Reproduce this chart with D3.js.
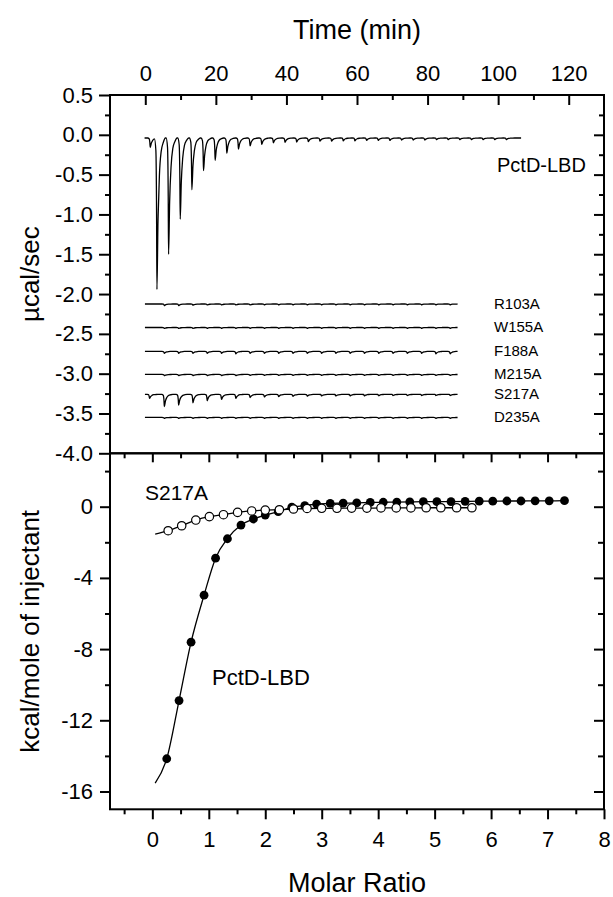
<!DOCTYPE html>
<html><head><meta charset="utf-8">
<script src="https://cdn.jsdelivr.net/npm/d3@7"></script>
<style>
body{margin:0;background:#fff}
svg{display:block}
text{font-family:"Liberation Sans",Arial,Helvetica,sans-serif;fill:#000}
</style></head>
<body>
<svg id="c" width="613" height="897"></svg>
<script>
// ---------- tick labels ----------
const timeTicks = [0, 20, 40, 60, 80, 100, 120];
const topYTicks = [0.5, 0.0, -0.5, -1.0, -1.5, -2.0, -2.5, -3.0, -3.5, -4.0];
const molarTicks = [0, 1, 2, 3, 4, 5, 6, 7, 8];
const botYTicks = [0, -4, -8, -12, -16];

// ---------- raw thermogram: PctD-LBD ----------
const pctdBaseline = -0.04;
const pctdRange = [-0.2, 106.5];
const pctdPeakTimes = [1.4, 3.3, 6.6, 9.9, 13.2, 16.5, 19.8, 23.1, 26.4, 29.7, 33.0, 36.3, 39.6, 42.9, 46.2, 49.5,
  52.8, 56.1, 59.4, 62.7, 66.0, 69.3, 72.6, 75.9, 79.2, 82.5, 85.8, 89.1, 92.4, 95.7, 99.0, 102.3];
const pctdPeakMin = [-0.16, -1.94, -1.50, -1.06, -0.69, -0.45, -0.32, -0.23, -0.18, -0.14, -0.12, -0.10, -0.095,
  -0.09, -0.085, -0.08, -0.08, -0.075, -0.075, -0.07, -0.07, -0.07, -0.065, -0.065, -0.065, -0.06, -0.06,
  -0.06, -0.06, -0.06, -0.06, -0.06];

// ---------- raw thermograms: mutants ----------
const mutantNames = ["R103A", "W155A", "F188A", "M215A", "S217A", "D235A"];
const mutantBaselines = [-2.125, -2.42, -2.72, -3.01, -3.26, -3.55];
const mutantRange = [-0.1, 88.5];
const mutantPeakTimes = [1.2, 5.4, 9.45, 13.5, 17.55, 21.6, 25.65, 29.7, 33.75, 37.8, 41.85, 45.9, 49.95, 54.0,
  58.05, 62.1, 66.15, 70.2, 74.25, 78.3, 82.35, 86.4];
const mutantDips = [
  [0.0, 0.02, 0.02, 0.015, 0.012, 0.012, 0.012, 0.012, 0.01, 0.01, 0.01, 0.01, 0.01, 0.01, 0.01, 0.01, 0.01, 0.01, 0.01, 0.01, 0.01, 0.01],
  [0.0, 0.012, 0.012, 0.012, 0.01, 0.01, 0.01, 0.01, 0.01, 0.01, 0.01, 0.01, 0.01, 0.01, 0.01, 0.01, 0.01, 0.01, 0.01, 0.01, 0.01, 0.01],
  [0.0, 0.025, 0.025, 0.025, 0.025, 0.025, 0.03, 0.025, 0.025, 0.025, 0.025, 0.025, 0.025, 0.025, 0.025, 0.025, 0.025, 0.025, 0.025, 0.025, 0.03, 0.03],
  [0.0, 0.015, 0.015, 0.015, 0.015, 0.015, 0.015, 0.012, 0.012, 0.012, 0.012, 0.012, 0.012, 0.012, 0.012, 0.012, 0.012, 0.012, 0.012, 0.012, 0.012, 0.012],
  [0.05, 0.155, 0.134, 0.105, 0.08, 0.063, 0.05, 0.04, 0.032, 0.028, 0.025, 0.022, 0.02, 0.02, 0.018, 0.018, 0.017, 0.016, 0.016, 0.015, 0.015, 0.015],
  [0.0, 0.01, 0.01, 0.01, 0.01, 0.01, 0.01, 0.01, 0.01, 0.01, 0.01, 0.01, 0.01, 0.01, 0.01, 0.01, 0.01, 0.01, 0.01, 0.01, 0.01, 0.01]
];
// shape of one injection peak (offset in min, fraction of depth)
const peakShapeT = [-0.7, -0.3, -0.1, 0, 0.3, 0.7, 1.2, 1.8, 2.4];
const peakShapeF = [0, 0.08, 0.5, 1, 0.55, 0.25, 0.09, 0.03, 0];

// ---------- integrated heats ----------
const pctdMR = [0.255, 0.473, 0.686, 0.916, 1.12, 1.33, 1.57, 1.79, 2.0, 2.23, 2.47, 2.70, 2.91, 3.15, 3.38, 3.62,
  3.86, 4.09, 4.33, 4.56, 4.80, 5.04, 5.29, 5.54, 5.79, 6.03, 6.28, 6.53, 6.78, 7.03, 7.30];
const pctdHeat = [-14.16, -10.89, -7.61, -4.97, -2.89, -1.80, -1.03, -0.69, -0.47, -0.28, -0.03, 0.06, 0.15, 0.19,
  0.20, 0.21, 0.24, 0.25, 0.26, 0.27, 0.28, 0.28, 0.29, 0.30, 0.31, 0.31, 0.32, 0.32, 0.33, 0.33, 0.34];
const pctdFitStart = [0.05, -15.53];
const s217MR = [0.28, 0.52, 0.77, 1.01, 1.26, 1.51, 1.76, 2.00, 2.25, 2.50, 2.74, 3.00, 3.27, 3.53, 3.80, 4.05,
  4.32, 4.58, 4.85, 5.11, 5.39, 5.66];
const s217Heat = [-1.35, -1.07, -0.75, -0.56, -0.45, -0.32, -0.24, -0.19, -0.17, -0.13, -0.10, -0.09, -0.09, -0.08,
  -0.08, -0.07, -0.07, -0.07, -0.06, -0.06, -0.06, -0.06];
const s217FitStart = [0.05, -1.54];

// ---------- layout ----------
const L = 110, R = 604, T = 95, M = 453.3, B = 809.3;
const svg = d3.select("#c");

const xTime = d3.scaleLinear().domain([-10, 130]).range([L, R]);
const yTop = d3.scaleLinear().domain([-4, 0.5]).range([M, T]);
const xMR = d3.scaleLinear().domain([-0.75, 8]).range([L, R]);
const yBot = d3.scaleLinear().domain([-17, 3]).range([B, M]);

const fmt1 = d => d.toFixed(1);
const fmt0 = d => String(d);
function range(a, b, s) { const out = []; for (let v = a; v <= b + 1e-9; v += s) out.push(+v.toFixed(4)); return out; }

function styleAxis(g, fs) {
  g.select(".domain").remove();
  g.selectAll(".tick line").attr("stroke", "#000").attr("stroke-width", 2);
  g.selectAll(".tick text").attr("font-size", fs).style("font-family", '"Liberation Sans",Arial,sans-serif');
}

// ---- top panel axes ----
let g = svg.append("g").attr("transform", `translate(0,${T})`)
  .call(d3.axisTop(xTime).tickValues(timeTicks).tickSize(-10).tickPadding(14.3).tickFormat(fmt0));
styleAxis(g, 22);
g = svg.append("g").attr("transform", `translate(0,${T})`)
  .call(d3.axisTop(xTime).tickValues([10, 30, 50, 70, 90, 110]).tickSize(-5).tickFormat(""));
styleAxis(g, 22);
g = svg.append("g").attr("transform", `translate(${L},0)`)
  .call(d3.axisLeft(yTop).tickValues(topYTicks).tickSize(11).tickPadding(6).tickFormat(fmt1));
styleAxis(g, 22);
g = svg.append("g").attr("transform", `translate(${L},0)`)
  .call(d3.axisLeft(yTop).tickValues(range(-3.75, 0.25, 0.5)).tickSize(5).tickFormat(""));
styleAxis(g, 22);
g = svg.append("g").attr("transform", `translate(${R},0)`)
  .call(d3.axisRight(yTop).tickValues(topYTicks.filter(v => v > -4 && v < 0.5)).tickSize(-10).tickFormat(""));
styleAxis(g, 22);
g = svg.append("g").attr("transform", `translate(${R},0)`)
  .call(d3.axisRight(yTop).tickValues(range(-3.75, 0.25, 0.5)).tickSize(-5).tickFormat(""));
styleAxis(g, 22);

// ---- bottom panel axes ----
g = svg.append("g").attr("transform", `translate(0,${B})`)
  .call(d3.axisBottom(xMR).tickValues(molarTicks).tickSize(10).tickPadding(12).tickFormat(fmt0));
styleAxis(g, 22);
g = svg.append("g").attr("transform", `translate(0,${B})`)
  .call(d3.axisBottom(xMR).tickValues(range(-0.5, 7.5, 1)).tickSize(5).tickFormat(""));
styleAxis(g, 22);
g = svg.append("g").attr("transform", `translate(0,${M})`)
  .call(d3.axisBottom(xMR).tickValues(molarTicks.filter(v => v < 8)).tickSize(9).tickFormat(""));
styleAxis(g, 22);
g = svg.append("g").attr("transform", `translate(0,${M})`)
  .call(d3.axisBottom(xMR).tickValues(range(-0.5, 7.5, 1)).tickSize(5).tickFormat(""));
styleAxis(g, 22);
g = svg.append("g").attr("transform", `translate(${L},0)`)
  .call(d3.axisLeft(yBot).tickValues(botYTicks).tickSize(10).tickPadding(7).tickFormat(fmt0));
styleAxis(g, 22);
g = svg.append("g").attr("transform", `translate(${L},0)`)
  .call(d3.axisLeft(yBot).tickValues([2, -2, -6, -10, -14]).tickSize(5).tickFormat(""));
styleAxis(g, 22);
g = svg.append("g").attr("transform", `translate(${R},0)`)
  .call(d3.axisRight(yBot).tickValues(botYTicks).tickSize(-10).tickFormat(""));
styleAxis(g, 22);
g = svg.append("g").attr("transform", `translate(${R},0)`)
  .call(d3.axisRight(yBot).tickValues([2, -2, -6, -10, -14]).tickSize(-6).tickFormat(""));
styleAxis(g, 22);

// frames
svg.append("rect").attr("x", L).attr("y", T).attr("width", R - L).attr("height", M - T)
  .attr("fill", "none").attr("stroke", "#000").attr("stroke-width", 2);
svg.append("rect").attr("x", L).attr("y", M).attr("width", R - L).attr("height", B - M)
  .attr("fill", "none").attr("stroke", "#000").attr("stroke-width", 2);

// ---- thermograms ----
function shapeAt(dt) {
  if (dt <= peakShapeT[0] || dt >= peakShapeT[peakShapeT.length - 1]) return 0;
  for (let i = 1; i < peakShapeT.length; i++) {
    if (dt <= peakShapeT[i]) {
      const a = peakShapeT[i - 1], b = peakShapeT[i];
      const u = (dt - a) / (b - a);
      return peakShapeF[i - 1] + u * (peakShapeF[i] - peakShapeF[i - 1]);
    }
  }
  return 0;
}
function thermo(baseline, rng, times, depths) {
  let ts = [rng[0], rng[1]];
  times.forEach(t => peakShapeT.forEach(o => { const v = t + o; if (v > rng[0] && v < rng[1]) ts.push(v); }));
  ts = Array.from(new Set(ts.map(v => +v.toFixed(4)))).sort((a, b) => a - b);
  return ts.map(t => {
    let y = baseline;
    times.forEach((tp, i) => { y -= depths[i] * shapeAt(t - tp); });
    return [t, y];
  });
}
const traceLine = d3.line().x(d => xTime(d[0])).y(d => yTop(d[1])).curve(d3.curveMonotoneX);

const pctdPts = thermo(pctdBaseline, pctdRange, pctdPeakTimes, pctdPeakMin.map(m => pctdBaseline - m));
svg.append("path").attr("d", traceLine(pctdPts)).attr("fill", "none").attr("stroke", "#000").attr("stroke-width", 1.3);

mutantNames.forEach((name, k) => {
  const pts = thermo(mutantBaselines[k], mutantRange, mutantPeakTimes, mutantDips[k]);
  svg.append("path").attr("d", traceLine(pts)).attr("fill", "none").attr("stroke", "#000").attr("stroke-width", 1.3);
  svg.append("text").attr("x", 494).attr("y", yTop(mutantBaselines[k]) + 5)
    .attr("font-size", 15).text(name);
});
svg.append("text").attr("x", 497).attr("y", 172).attr("font-size", 20).text("PctD-LBD");

// ---- integrated heats ----
const fitLine = d3.line().x(d => xMR(d[0])).y(d => yBot(d[1])).curve(d3.curveMonotoneX);
const s217Fit = [s217FitStart].concat(s217MR.map((x, i) => [x, s217Heat[i]]));
const pctdFit = [pctdFitStart].concat(pctdMR.map((x, i) => [x, pctdHeat[i]]));
svg.append("path").attr("d", fitLine(pctdFit)).attr("fill", "none").attr("stroke", "#000").attr("stroke-width", 1.3);
svg.append("path").attr("d", fitLine(s217Fit)).attr("fill", "none").attr("stroke", "#000").attr("stroke-width", 1.3);

svg.append("g").selectAll("circle").data(pctdMR).join("circle")
  .attr("cx", d => xMR(d)).attr("cy", (d, i) => yBot(pctdHeat[i])).attr("r", 4.4).attr("fill", "#000");
svg.append("g").selectAll("circle").data(s217MR).join("circle")
  .attr("cx", d => xMR(d)).attr("cy", (d, i) => yBot(s217Heat[i])).attr("r", 4.2)
  .attr("fill", "#fff").attr("stroke", "#000").attr("stroke-width", 1.2);

svg.append("text").attr("x", 145).attr("y", 500).attr("font-size", 21).text("S217A");
svg.append("text").attr("x", 212).attr("y", 685).attr("font-size", 22).text("PctD-LBD");

// ---- axis titles ----
svg.append("text").attr("x", (L + R) / 2).attr("y", 39).attr("text-anchor", "middle").attr("font-size", 27).text("Time (min)");
svg.append("text").attr("x", (L + R) / 2).attr("y", 892).attr("text-anchor", "middle").attr("font-size", 27).text("Molar Ratio");
svg.append("text").attr("transform", `translate(39,${(T + M) / 2}) rotate(-90)`).attr("text-anchor", "middle")
  .attr("font-size", 26).text("µcal/sec");
svg.append("text").attr("transform", `translate(39,${(M + B) / 2}) rotate(-90)`).attr("text-anchor", "middle")
  .attr("font-size", 26).text("kcal/mole of injectant");
</script>
</body></html>
